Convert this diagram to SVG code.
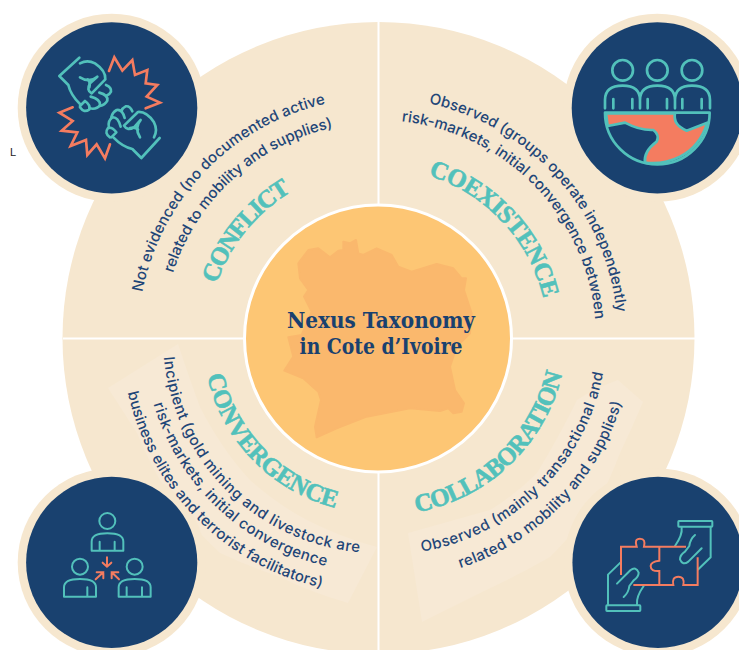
<svg xmlns="http://www.w3.org/2000/svg" width="739" height="650" viewBox="0 0 739 650">
<style>
.halo{fill:#f6e7cf}
.disc{fill:#19416f}
.t{fill:none;stroke:#52c1bb;stroke-width:8;stroke-linecap:round;stroke-linejoin:round}
.s{fill:none;stroke:#f47c60;stroke-width:8;stroke-linecap:round;stroke-linejoin:miter}
.body{font-family:"Inter","Noto Sans",sans-serif;font-size:15px;font-weight:500;fill:#1f4678}
.head{font-family:"Liberation Serif","DejaVu Serif",serif;font-weight:700;font-size:25px;fill:#52c1bb;stroke:#52c1bb;stroke-width:.6}
.title{font-family:"DejaVu Serif","Liberation Serif",serif;font-weight:700;font-size:22px;fill:#19416f;text-anchor:middle}
</style>
<defs>
<path id="c240" d="M138 338A240 240 0 1 1 618 338A240 240 0 1 1 138 338"/>
<path id="c218" d="M160 338A218 218 0 1 1 596 338A218 218 0 1 1 160 338"/>
<path id="c215" d="M163 338A215 215 0 1 1 593 338A215 215 0 1 1 163 338"/>
<path id="c170" d="M208 338A170 170 0 1 1 548 338A170 170 0 1 1 208 338"/>
<path id="a215" d="M163 338A215 215 0 1 0 593 338A215 215 0 1 0 163 338"/>
<path id="a234" d="M144 338A234 234 0 1 0 612 338A234 234 0 1 0 144 338"/>
<path id="a256" d="M122 338A256 256 0 1 0 634 338A256 256 0 1 0 122 338"/>
<path id="a175" d="M203 338A175 175 0 1 0 553 338A175 175 0 1 0 203 338"/>
<path id="a183" d="M201 332A183 183 0 1 0 567 332A183 183 0 1 0 201 332"/>
<path id="a223" d="M161 332A223 223 0 1 0 607 332A223 223 0 1 0 161 332"/>
<path id="a248" d="M136 332A248 248 0 1 0 632 332A248 248 0 1 0 136 332"/>
<g id="fist">
<path class="t" d="M238 173L178 228L205 255Q212 285 240 312"/>
<path class="t" d="M240 190Q262 178 285 190Q318 212 316 238L275 280Q258 270 270 250L292 230Q268 250 240 232"/>
<path class="t" d="M263 238Q272 245 268 262"/>
<path class="t" d="M240 318L255 303Q272 315 268 328Q252 340 240 322"/>
<path class="t" d="M268 325Q290 330 300 315Q302 298 272 290"/>
<path class="t" d="M298 278Q325 285 322 302Q315 315 300 318"/>
<path class="t" d="M318 255Q335 262 333 275Q328 285 320 287"/>
</g>
<g id="hand">
<rect class="t" style="stroke-width:6" x="355" y="183" width="102" height="17" rx="2"/>
<path class="t" style="stroke-width:6" d="M365 203Q368 225 345 258M452 200V292L415 328"/>
<path class="t" style="stroke-width:6" d="M425 265L385 305Q368 318 360 298Q360 285 375 275L388 258Q390 238 405 225"/>
</g>
</defs>
<rect width="739" height="650" fill="#fff"/>
<g id="background">
<circle cx="378.5" cy="338" r="316" fill="#f6e7cf"/>
<path fill="#f7e9d5" d="M108 388L178 344Q190 380 200 407Q222 450 250 480Q275 503 307 520Q340 537 377 547L348 603Q310 592 280 577Q250 567 220 553Q190 525 170 497Q150 465 137 433Z"/>
<path fill="#f7e9d5" d="M408 533L490 510Q515 495 537 473Q560 435 577 400Q595 388 618 380L643 402Q632 428 620 453Q610 480 597 503Q575 532 550 557Q515 577 480 593Q450 608 422 622Z"/>
</g>
<g id="connectors">
<path d="M378.5 22V650M63 338.5H695" stroke="#fff" stroke-width="2" fill="none"/>
</g>
<g id="center">
<circle cx="378" cy="338.5" r="133.5" fill="#fdc674" stroke="#fff" stroke-width="3"/>
<path transform="translate(240 200) scale(.3333)" fill="#fab86d" stroke="#fab86d" stroke-width="6" stroke-linejoin="round" d="M175 190L205 150L235 145L270 172L295 152L310 150L310 125L330 130L348 120L355 160L370 165L410 145L455 165L475 200L515 215L590 192L640 205L665 235L678 235L672 270L695 340L690 400L650 440L630 500L645 570L672 610L665 635L640 640L625 625L600 633L510 625L380 650L290 685L230 712L225 680L243 600L235 575L190 535L133 512L160 470L145 412L185 405L215 335L192 290L205 270L180 235Z"/>
<text class="title" x="381" y="328" textLength="188" lengthAdjust="spacingAndGlyphs">Nexus Taxonomy</text>
<text class="title" x="381" y="354" textLength="163" lengthAdjust="spacingAndGlyphs">in Cote d’Ivoire</text>
</g>
<g id="conflict">
<circle class="halo" cx="111.7" cy="107.8" r="94"/>
<circle class="disc" cx="111.7" cy="107.8" r="85.6"/>
<g transform="scale(.3333)">
<use href="#fist"/>
<use href="#fist" transform="matrix(0 -1 -1 0 652 652)"/>
<path class="s" d="M327 213L343 172L367 212L397 180L405 225L442 210L437 250L472 255L440 290L480 308L437 325"/>
<path class="s" d="M218 322L178 338L218 363L185 392L232 397L212 438L258 420L262 465L290 433L315 475L330 433"/>
</g>
<text class="head"><textPath href="#c170" startOffset="55" textLength="121">CONFLICT</textPath></text>
<text class="body"><textPath href="#c240" startOffset="46" textLength="278">Not evidenced (no documented active</textPath></text>
<text class="body"><textPath href="#c215" startOffset="66" textLength="226">related to mobility and supplies)</textPath></text>
</g>
<g id="coexistence">
<circle class="halo" cx="657.3" cy="107.8" r="94"/>
<circle class="disc" cx="657.3" cy="107.8" r="85.6"/>
<g transform="translate(560 0) scale(.3333)">
<circle class="t" cx="188" cy="211" r="31"/><circle class="t" cx="292" cy="211" r="31"/><circle class="t" cx="396" cy="211" r="31"/>
<path class="t" d="M135 325V300Q135 257 188 257Q240 257 240 300V325M240 300Q240 257 292 257Q345 257 345 300V325M345 300Q345 257 396 257Q450 257 450 300V325M160 297V325M217 297V325M263 297V325M321 297V325M367 297V325M425 297V325"/>
<path fill="#f47c60" stroke="#52c1bb" stroke-width="8" stroke-linejoin="round" d="M138 340L345 340Q338 375 380 392L442 368Q420 440 360 470Q310 495 255 488Q250 455 290 425Q300 405 280 390Q240 392 195 368L143 378Z"/>
<path class="t" d="M135 338H449A157 155 0 0 1 135 338Z"/>
</g>
<text class="head"><textPath href="#c170" startOffset="318" textLength="176">COEXISTENCE</textPath></text>
<text class="body"><textPath href="#c240" startOffset="428" textLength="300">Observed (groups operate independently</textPath></text>
<text class="body"><textPath href="#c218" startOffset="366" textLength="300">risk-markets, initial convergence between</textPath></text>
</g>
<g id="convergence">
<circle class="halo" cx="111.7" cy="562.4" r="94"/>
<circle class="disc" cx="111.7" cy="562.4" r="85.6"/>
<g transform="translate(0 460) scale(.3333)">
<circle class="t" style="stroke-width:6" cx="322" cy="183" r="24"/><circle class="t" style="stroke-width:6" cx="240" cy="320" r="24"/><circle class="t" style="stroke-width:6" cx="404" cy="320" r="24"/>
<path class="t" style="stroke-width:6" d="M275 272V245Q275 220 322 220Q370 220 370 245V272ZM299 245V272M344 245V272"/>
<path class="t" style="stroke-width:6" d="M192 410V382Q192 357 240 357Q288 357 288 382V410ZM262 382V410"/>
<path class="t" style="stroke-width:6" d="M356 410V382Q356 357 404 357Q452 357 452 382V410ZM380 382V410M426 382V410"/>
<path class="s" style="stroke-width:6" d="M321 292V320M308 308L321 320L334 308M287 358L310 337M290 337H310V355M357 358L335 337M355 337H335V355"/>
</g>
<text class="head"><textPath href="#a175" startOffset="38" textLength="194">CONVERGENCE</textPath></text>
<text class="body"><textPath href="#a215" startOffset="19" textLength="300">Incipient (gold mining and livestock are</textPath></text>
<text class="body"><textPath href="#a234" startOffset="67" textLength="248">risk-markets, initial convergence</textPath></text>
<text class="body"><textPath href="#a256" startOffset="55" textLength="290">business elites and terrorist facilitators)</textPath></text>
</g>
<g id="collaboration">
<circle class="halo" cx="658" cy="562.4" r="94"/>
<circle class="disc" cx="658" cy="562.4" r="85.6"/>
<g transform="translate(560 460) scale(.3333)">
<use href="#hand"/>
<use href="#hand" transform="rotate(180 298 318)"/>
<path class="s" style="stroke-width:6;stroke-linecap:butt" d="M183 345V260H230Q222 236 240 236Q258 236 252 260H378M298 260V302Q272 305 272 318Q272 335 298 333V375M220 375H340Q335 350 355 350Q375 350 370 375H413V292"/>
</g>
<text class="head"><textPath href="#a183" startOffset="320" textLength="213">COLLABORATION</textPath></text>
<text class="body"><textPath href="#a223" startOffset="388" textLength="271">Observed (mainly transactional and</textPath></text>
<text class="body"><textPath href="#a248" startOffset="467" textLength="240">related to mobility and supplies)</textPath></text>
</g>
<text x="10" y="156" font-family="Liberation Sans, sans-serif" font-size="11" fill="#222">L</text>
</svg>
